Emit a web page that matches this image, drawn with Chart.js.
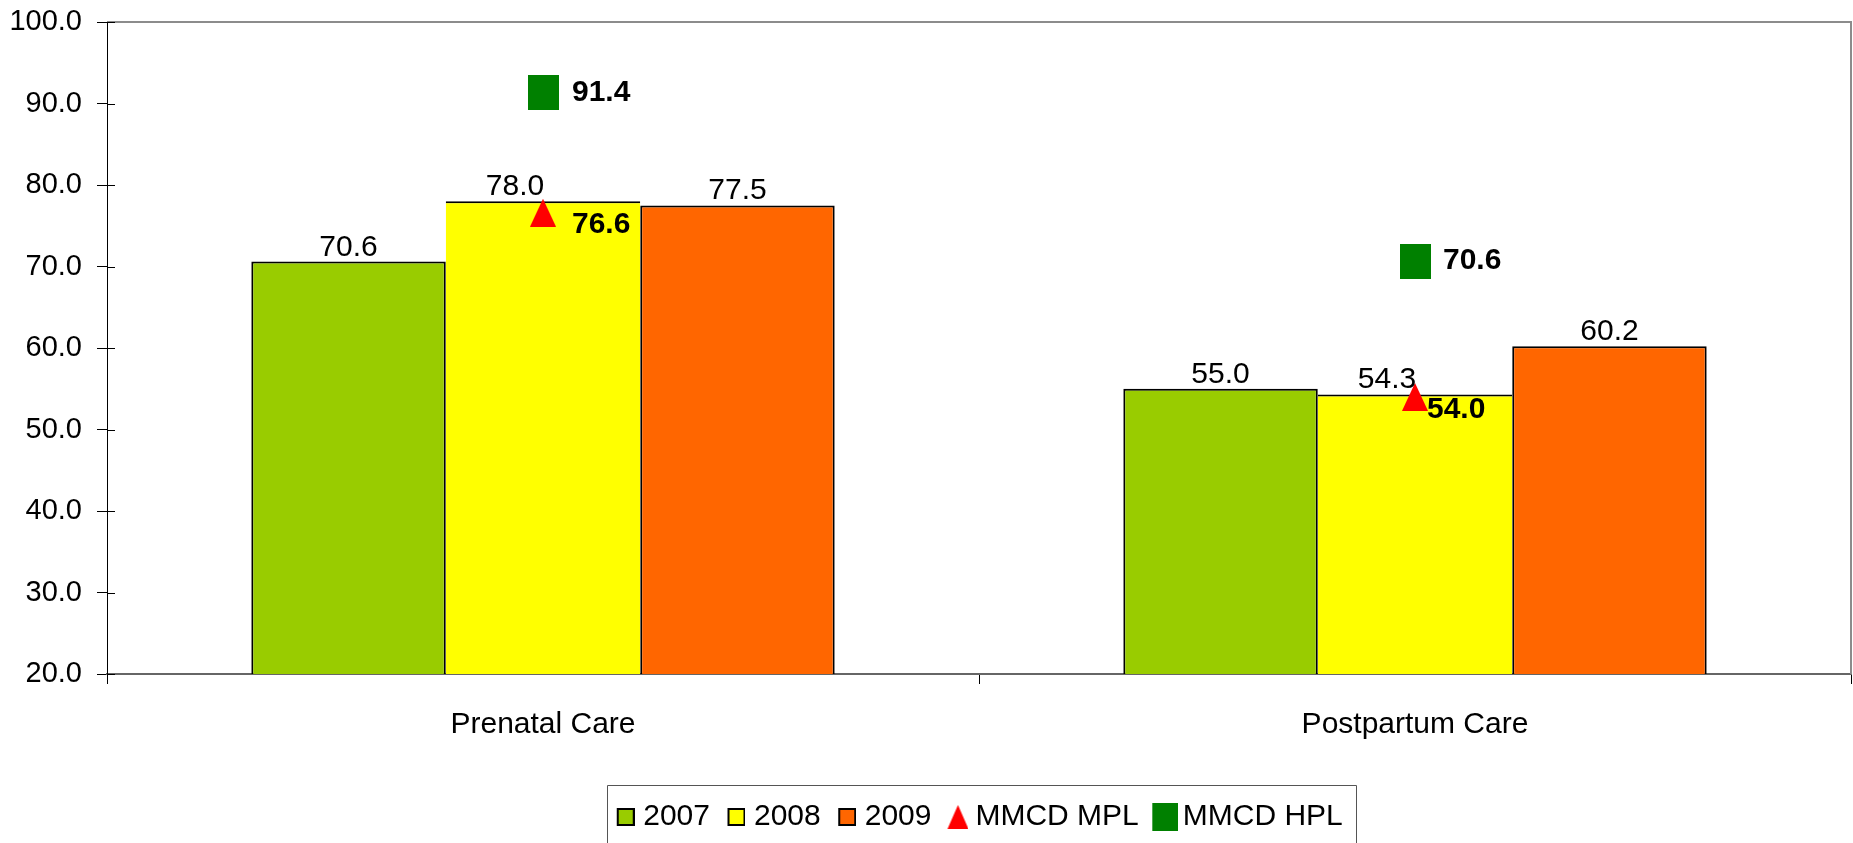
<!DOCTYPE html>
<html>
<head>
<meta charset="utf-8">
<title>Prenatal and Postpartum Care</title>
<script src="https://cdn.jsdelivr.net/npm/chart.js@4.4.0/dist/chart.umd.min.js"></script>
<style>
  html, body { margin: 0; padding: 0; background: #fff; }
  canvas { display: block; }
</style>
</head>
<body>
<canvas id="myChart" width="1853" height="843"></canvas>
<script>
// chart data
const categories = ['Prenatal Care', 'Postpartum Care'];
const rates2007 = [70.6, 55.0];
const rates2008 = [78.0, 54.3];
const rates2009 = [77.5, 60.2];
const mplValues = [76.6, 54.0];
const hplValues = [91.4, 70.6];
const yTicks = [20, 30, 40, 50, 60, 70, 80, 90, 100];

const FONT = '"Liberation Sans", Arial, sans-serif';
Chart.defaults.font.family = FONT;
Chart.defaults.color = '#000';

// little canvases used as point / legend markers
// (pad = transparent strip on the left, pulls the legend icon closer to its text)
function markerCanvas(w, h, pad, paint) {
    const c = document.createElement('canvas');
    c.width = w + pad;
    c.height = h;
    const g = c.getContext('2d');
    g.translate(pad, 0);
    paint(g, w, h);
    return c;
}
function triangle(w, h, pad) {
    return markerCanvas(w, h, pad || 0, (g) => {
        g.fillStyle = '#FF0000';
        g.beginPath();
        g.moveTo(w / 2, 0);
        g.lineTo(w, h);
        g.lineTo(0, h);
        g.closePath();
        g.fill();
    });
}
function square(w, h, pad) {
    return markerCanvas(w, h, pad || 0, (g) => {
        g.fillStyle = '#008000';
        g.fillRect(0, 0, w, h);
    });
}
function swatch(color, pad) {
    return markerCanvas(18, 18, pad, (g) => {
        g.fillStyle = '#000';
        g.fillRect(0, 0, 18, 18);
        g.fillStyle = color;
        g.fillRect(2, 2, 14, 14);
    });
}

const legendIcons = [
    swatch('#99CC00', 8),
    swatch('#FFFF00', 8),
    swatch('#FF6600', 8),
    triangle(21, 24, 8),
    square(26, 28, 8)
];

// value labels above bars and next to the markers
const valueLabels = {
    id: 'valueLabels',
    afterDatasetsDraw(chart) {
        const ctx = chart.ctx;
        ctx.save();
        ctx.fillStyle = '#000';
        chart.data.datasets.forEach((ds, i) => {
            const meta = chart.getDatasetMeta(i);
            if (meta.hidden) return;
            meta.data.forEach((el, j) => {
                const text = ds.data[j].toFixed(1);
                if (meta.type === 'bar') {
                    ctx.font = '30px ' + FONT;
                    ctx.textAlign = 'center';
                    ctx.textBaseline = 'alphabetic';
                    ctx.fillText(text, el.x + (ds.labelShift || 0), el.y - 6);
                } else {
                    const off = ds.labelOffsets[j];
                    ctx.font = 'bold 30px ' + FONT;
                    ctx.textAlign = 'left';
                    ctx.textBaseline = 'middle';
                    ctx.fillText(text, el.x + off[0], el.y + off[1]);
                }
            });
        });
        ctx.restore();
    }
};

// plot frame, inner y ticks and the box round the legend
const frame = {
    id: 'frame',
    afterDraw(chart) {
        const ctx = chart.ctx;
        const a = chart.chartArea;
        const y = chart.scales.y;
        ctx.save();
        ctx.strokeStyle = '#8c8c8c';
        ctx.lineWidth = 2;
        ctx.beginPath();
        ctx.moveTo(a.left, a.top);
        ctx.lineTo(a.right, a.top);
        ctx.lineTo(a.right, a.bottom);
        ctx.stroke();

        ctx.strokeStyle = '#000';
        ctx.lineWidth = 1;
        yTicks.forEach((v) => {
            const py = Math.round(y.getPixelForValue(v)) + 0.5;
            ctx.beginPath();
            ctx.moveTo(a.left, py);
            ctx.lineTo(a.left + 8, py);
            ctx.stroke();
        });

        const boxes = chart.legend.legendHitBoxes;
        if (boxes && boxes.length) {
            const first = boxes[0];
            const last = boxes[boxes.length - 1];
            const left = Math.round(first.left - 8) + 0.5;
            const right = Math.round(last.left + last.width + 13) + 0.5;
            const top = Math.round(first.top - 17) + 0.5;
            ctx.strokeStyle = '#555';
            ctx.beginPath();
            ctx.moveTo(left, chart.height + 5);
            ctx.lineTo(left, top);
            ctx.lineTo(right, top);
            ctx.lineTo(right, chart.height + 5);
            ctx.stroke();
        }
        ctx.restore();
    }
};

const ctx = document.getElementById('myChart').getContext('2d');

const myChart = new Chart(ctx, {
    type: 'bar',
    data: {
        labels: categories,
        datasets: [{
            label: '2007',
            data: rates2007,
            backgroundColor: '#99CC00',
            borderColor: '#000',
            borderWidth: { top: 2, left: 2, right: 2, bottom: 0 },
            order: 2
        }, {
            label: '2008',
            data: rates2008,
            backgroundColor: '#FFFF00',
            borderColor: '#000',
            borderWidth: { top: 2, left: 0, right: 0, bottom: 0 },
            labelShift: -28,
            order: 2
        }, {
            label: '2009',
            data: rates2009,
            backgroundColor: '#FF6600',
            borderColor: '#000',
            borderWidth: { top: 2, left: 2, right: 2, bottom: 0 },
            order: 2
        }, {
            type: 'line',
            label: 'MMCD MPL',
            data: mplValues,
            showLine: false,
            pointStyle: triangle(26, 28),
            pointRadius: 10,
            labelOffsets: [[29, 12], [12, 13]],
            order: 1
        }, {
            type: 'line',
            label: 'MMCD HPL',
            data: hplValues,
            showLine: false,
            pointStyle: square(31, 35),
            pointRadius: 10,
            labelOffsets: [[29, 1], [28, -1]],
            order: 1
        }]
    },
    options: {
        responsive: false,
        animation: false,
        datasets: {
            bar: {
                barPercentage: 1,
                categoryPercentage: 0.669
            }
        },
        layout: {
            autoPadding: false,
            padding: { top: 22, left: 9, right: 2, bottom: 1 }
        },
        scales: {
            x: {
                grid: {
                    drawOnChartArea: false,
                    tickLength: 10,
                    tickColor: '#000'
                },
                border: { color: '#666', width: 2 },
                ticks: {
                    padding: 23,
                    font: { size: 30 }
                },
                afterFit: (scale) => {
                    scale.height = 112;
                    scale.paddingLeft = 0;
                    scale.paddingRight = 0;
                }
            },
            y: {
                min: 20,
                max: 100,
                grid: {
                    drawOnChartArea: false,
                    tickLength: 10,
                    tickColor: '#000'
                },
                border: { color: '#000', width: 1 },
                afterBuildTicks: (axis) => {
                    axis.ticks = yTicks.map(v => ({ value: v }));
                },
                afterFit: (scale) => {
                    scale.width = 98;
                    scale.paddingTop = 0;
                    scale.paddingBottom = 0;
                },
                ticks: {
                    padding: 15,
                    font: { size: 29 },
                    callback: (value) => Number(value).toFixed(1)
                }
            }
        },
        plugins: {
            tooltip: { enabled: false },
            legend: {
                position: 'bottom',
                fullSize: false,
                labels: {
                    usePointStyle: true,
                    pointStyleWidth: 13,
                    padding: 16,
                    font: { size: 30 },
                    generateLabels: (chart) => chart.data.datasets.map((ds, i) => ({
                        text: ds.label,
                        datasetIndex: i,
                        pointStyle: legendIcons[i],
                        hidden: !chart.isDatasetVisible(i),
                        fontColor: '#000',
                        fillStyle: 'transparent',
                        strokeStyle: 'transparent',
                        lineWidth: 0
                    }))
                }
            }
        }
    },
    plugins: [valueLabels, frame]
});
</script>
</body>
</html>
